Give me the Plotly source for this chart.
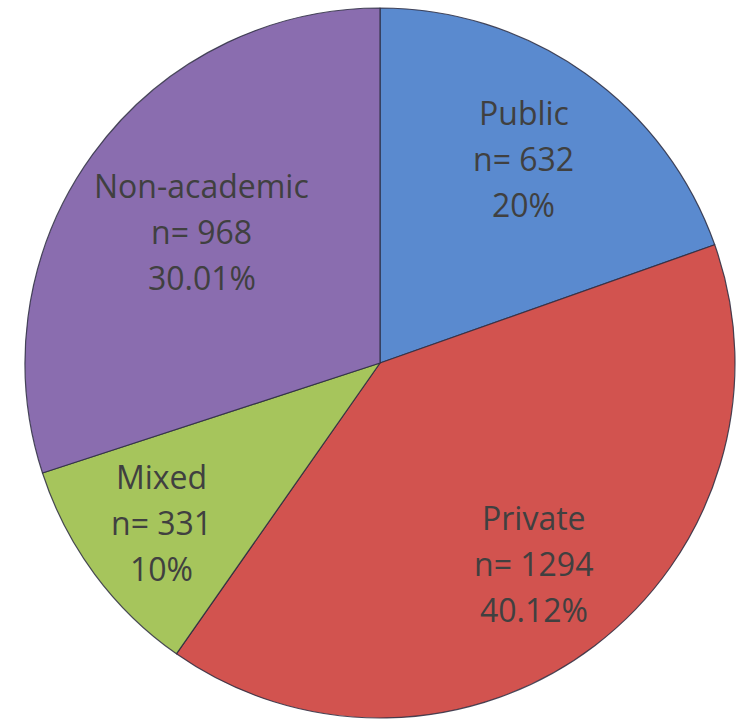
import numpy as np
import plotly.graph_objects as go

categories = ["Public", "Private", "Mixed", "Non-academic"]
counts = [632, 1294, 331, 968]
pct_labels = ["20%", "40.12%", "10%", "30.01%"]
colors = ["#5a8acf", "#d2534f", "#a6c55c", "#8a6daf"]
# how far out along the slice each label sits (fraction of radius)
label_radius = [0.70, 0.715, 0.765, 0.62]

W, H = 737, 721
cx, cy, R = 380, 363, 355

fig = go.Figure(go.Pie(
    labels=categories,
    values=counts,
    sort=False,
    direction="clockwise",
    rotation=0,
    marker=dict(colors=colors, line=dict(color="rgba(45,45,65,0.85)", width=1.2)),
    textinfo="none",
    hoverinfo="label+value+percent",
    showlegend=False,
    domain=dict(x=[(cx - R) / W, (cx + R) / W], y=[(H - cy - R) / H, (H - cy + R) / H]),
))

# place labels at the middle angle of each slice
total = sum(counts)
cum = np.cumsum([0] + counts)
for i, name in enumerate(categories):
    mid = (cum[i] + counts[i] / 2) / total * 2 * np.pi
    px_ = cx + R * label_radius[i] * np.sin(mid)
    py_ = cy - R * label_radius[i] * np.cos(mid)
    lines = [name, f"n= {counts[i]}", pct_labels[i]]
    for j, t in enumerate(lines):
        fig.add_annotation(
            x=px_ / W, y=1 - py_ / H, xref="paper", yref="paper",
            text=t, showarrow=False, xanchor="center", yanchor="middle",
            yshift=(1 - j) * 46 + 2,
            font=dict(family="Open Sans", size=32, color="#404040"),
        )

fig.update_layout(
    width=W, height=H,
    margin=dict(l=0, r=0, t=0, b=0),
    paper_bgcolor="white",
    plot_bgcolor="white",
)

fig.write_html("out.html", config={"displayModeBar": False},
               post_script="document.body.style.margin='0';")
